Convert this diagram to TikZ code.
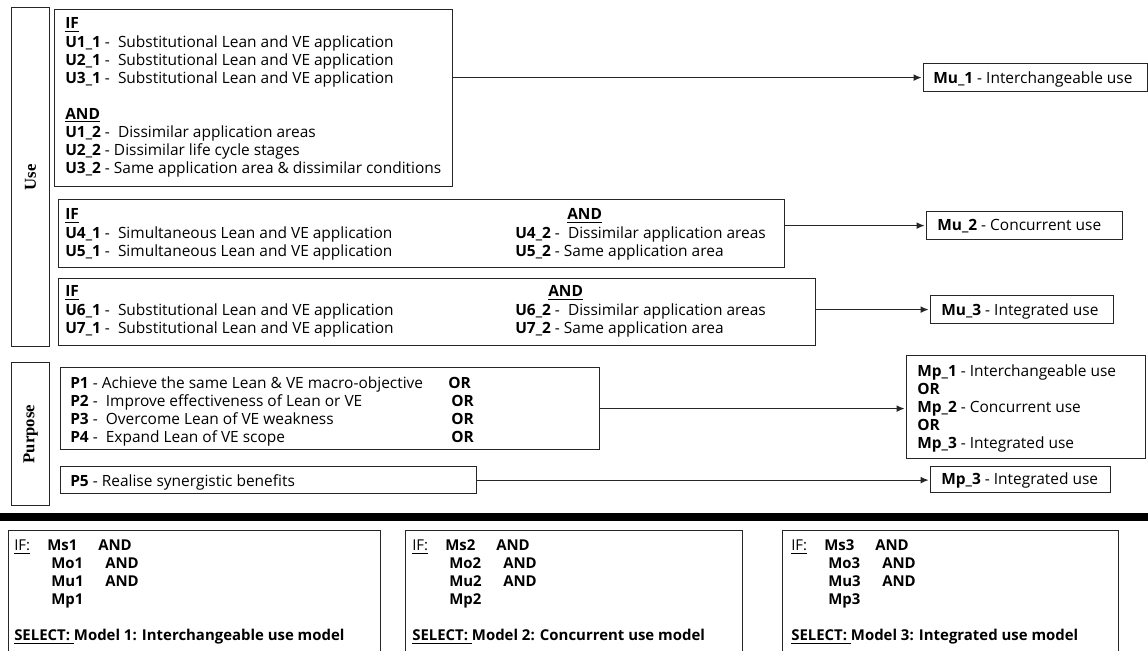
\documentclass[tikz,border=0pt]{standalone}
\usepackage{fontspec}
\setmainfont{Open Sans}
\newfontfamily\sidefont{Liberation Serif}
\usepackage{graphicx}
\usetikzlibrary{calc,arrows.meta}

\tikzset{
	frame/.style={draw=black!85, line width=0.9pt, anchor=north west, inner sep=0pt},
	boxsize/.style 2 args={minimum width=#1*0.75pt, minimum height=#2*0.75pt},
	rules/.style={anchor=north west, align=left, inner sep=0pt, font=\fontsize{11.6}{13.6}\selectfont},
	selrules/.style={rules, font=\fontsize{11.2}{13.5}\selectfont},
	side/.style={frame, font=\sidefont\bfseries\fontsize{12.5}{14}\selectfont},
	link/.style={draw=black!85, line width=0.9pt, -{Latex[length=6pt,width=5pt]}, shorten >=1pt}
}
\def\selectrule#1#2{\makebox[24.75pt][l]{\underline{IF:}}\makebox[38.25pt][l]{\textbf{Ms#1}}\textbf{AND}\\
	\hspace*{27.75pt}\makebox[40.5pt][l]{\textbf{Mo#1}}\textbf{AND}\\
	\hspace*{27.75pt}\makebox[40.5pt][l]{\textbf{Mu#1}}\textbf{AND}\\
	\hspace*{27.75pt}\textbf{Mp#1}\\[13.5pt]
	\underline{\textbf{SELECT:}\ }\textbf{Model #1: #2}}

\begin{document}
\begin{tikzpicture}[x=0.75pt, y=-0.75pt]
			%%%%% START %%%%%
			\clip (0, 0) rectangle (1148, 650);
			
			\node[side, boxsize={38}{339}] (usebox) at (11, 7) {\rotatebox{90}{Use}};
			\node[side, boxsize={38}{143}] (purposebox) at (11, 362) {\rotatebox{90}{Purpose}};
			
			\node[frame, boxsize={398}{177}] (use1) at (54, 9) {};
			\node[rules] (use1txt) at (65, 17.6) {\underline{\textbf{IF}}\\
				\textbf{U1\_1} -\ \ Substitutional Lean and VE application\\
				\textbf{U2\_1} -\ \ Substitutional Lean and VE application\\
				\textbf{U3\_1} -\ \ Substitutional Lean and VE application\\[13.6pt]
				\underline{\textbf{AND}}\\
				\textbf{U1\_2} -\ \ Dissimilar application areas\\
				\textbf{U2\_2} - Dissimilar life cycle stages\\
				\textbf{U3\_2} - Same application area \& dissimilar conditions};
			
			\node[frame, boxsize={726}{68}] (use2) at (58, 199) {};
			\node[rules] (use2txt) at (65, 208.6) {\makebox[337.5pt][l]{\underline{\textbf{IF}}}\hspace{39pt}\underline{\textbf{AND}}\\
				\makebox[337.5pt][l]{\textbf{U4\_1} -\ \ Simultaneous Lean and VE application}\textbf{U4\_2} -\ \ Dissimilar application areas\\
				\makebox[337.5pt][l]{\textbf{U5\_1} -\ \ Simultaneous Lean and VE application}\textbf{U5\_2} - Same application area};
			
			\node[frame, boxsize={757}{67}] (use3) at (58, 278) {};
			\node[rules] (use3txt) at (65, 285.6) {\makebox[337.5pt][l]{\underline{\textbf{IF}}}\hspace{24.75pt}\underline{\textbf{AND}}\\
				\makebox[337.5pt][l]{\textbf{U6\_1} -\ \ Substitutional Lean and VE application}\textbf{U6\_2} -\ \ Dissimilar application areas\\
				\makebox[337.5pt][l]{\textbf{U7\_1} -\ \ Substitutional Lean and VE application}\textbf{U7\_2} - Same application area};
			
			\node[frame, boxsize={539}{82}] (purp1) at (60, 367) {};
			\node[rules] (purp1txt) at (70, 376) {\makebox[283.5pt][l]{\textbf{P1} - Achieve the same Lean \& VE macro-objective}\textbf{OR}\\
				\makebox[285.75pt][l]{\textbf{P2} -\ \ Improve effectiveness of Lean or VE}\textbf{OR}\\
				\makebox[285.75pt][l]{\textbf{P3} -\ \ Overcome Lean of VE weakness}\textbf{OR}\\
				\makebox[285.75pt][l]{\textbf{P4} -\ \ Expand Lean of VE scope}\textbf{OR}};
			
			\node[frame, boxsize={416}{27}] (purp2) at (60, 466) {};
			\node[rules] (purp2txt) at (70, 474) {\textbf{P5} - Realise synergistic benefits};
			
			% models
			\node[frame, boxsize={224}{28}] (mu1) at (923, 63) {};
			\node[rules] (mu1txt) at (933, 71) {\textbf{Mu\_1} - Interchangeable use};
			\node[frame, boxsize={196}{28}] (mu2) at (926, 211) {};
			\node[rules] (mu2txt) at (937, 219) {\textbf{Mu\_2} - Concurrent use};
			\node[frame, boxsize={183}{28}] (mu3) at (930, 295) {};
			\node[rules] (mu3txt) at (941, 303) {\textbf{Mu\_3} - Integrated use};
			\node[frame, boxsize={239}{103}] (mpall) at (906, 355) {};
			\node[rules] (mpalltxt) at (917, 364) {\textbf{Mp\_1} - Interchangeable use\\
				\textbf{OR}\\
				\textbf{Mp\_2} - Concurrent use\\
				\textbf{OR}\\
				\textbf{Mp\_3} - Integrated use};
			\node[frame, boxsize={180}{26}] (mp3) at (930, 466) {};
			\node[rules] (mp3txt) at (941, 472) {\textbf{Mp\_3} - Integrated use};
			
			\draw[link] (use1.east |- mu1.west) -- (mu1.west);
			\draw[link] (use2.east |- mu2.west) -- (mu2.west);
			\draw[link] (use3.east |- mu3.west) -- (mu3.west);
			\draw[link] (purp1.east) -- (purp1.east -| mpall.west);
			\draw[link] (purp2.east) -- (purp2.east -| mp3.west);
			
			\fill[black] (0, 513) rectangle (1148, 521);
			
			\node[frame, boxsize={372}{140}] (sel1) at (8, 530) {};
			\node[selrules] (sel1txt) at (14, 539.8) {\selectrule{1}{Interchangeable use model}};
			\node[frame, boxsize={337}{140}] (sel2) at (405, 530) {};
			\node[selrules] (sel2txt) at (412, 539.8) {\selectrule{2}{Concurrent use model}};
			\node[frame, boxsize={336}{140}] (sel3) at (782, 530) {};
			\node[selrules] (sel3txt) at (791, 539.8) {\selectrule{3}{Integrated use model}};
			
			%%%%% END %%%%%
\end{tikzpicture}
\end{document}
